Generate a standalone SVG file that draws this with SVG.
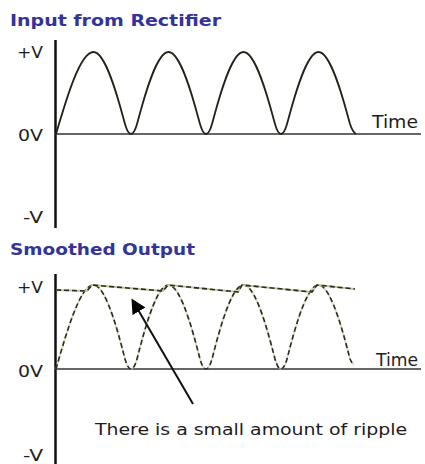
<svg xmlns="http://www.w3.org/2000/svg" width="425" height="464" viewBox="0 0 425 464">
<style>
.title{font-family:"DejaVu Sans","Liberation Sans",sans-serif;font-weight:bold;font-size:16px;fill:#333399}
.lbl{font-family:"DejaVu Sans","Liberation Sans",sans-serif;font-size:15px;fill:#1e1e1e}
.time{font-family:"DejaVu Sans","Liberation Sans",sans-serif;font-size:17px;fill:#1e1e1e}
.note{font-family:"DejaVu Sans","Liberation Sans",sans-serif;font-size:16px;fill:#221a22}
.vaxis{stroke:#111;stroke-width:2.5;fill:none}
.haxis{stroke:#333;stroke-width:1.5;fill:none}
.wave{stroke:#1f2418;stroke-width:1.8;fill:none;stroke-linejoin:round}
.under{stroke:#c4c49c;stroke-width:1.8;fill:none;stroke-linejoin:round}
.dash{stroke:#2a2a22;stroke-width:1.6;fill:none;stroke-dasharray:5 3;stroke-linejoin:round}
.arrow{stroke:#111;stroke-width:2;fill:none}
</style>
<defs>
<marker id="head" markerUnits="userSpaceOnUse" markerWidth="16" markerHeight="16" refX="1" refY="7.5" orient="auto">
<path d="M0,0 L15,7.5 L0,15 z" fill="#000"/>
</marker>
</defs>
<g id="input-chart">
<text class="title" x="10" y="26" textLength="211" lengthAdjust="spacingAndGlyphs">Input from Rectifier</text>
<line class="vaxis" x1="55.5" y1="40" x2="55.5" y2="228"/>
<line class="haxis" x1="55" y1="134" x2="421" y2="134"/>
<path class="wave" d="M56,134 C66,100 79.93,52 93.5,52 C107.07,52 121,110 125,124 C127,131 129,134 131,134 C133,134 135,131 137,124 C141,110 154.93,52 168.5,52 C182.07,52 196,110 200,124 C202,131 204,134 206,134 C208,134 210,131 212,124 C216,110 229.93,52 243.5,52 C257.07,52 271,110 275,124 C277,131 279,134 281,134 C283,134 285,131 287,124 C291,110 304.93,52 318.5,52 C332.07,52 346,110 350,124 C352,130 354,133 356,134"/>
<text class="lbl" x="43" y="58" text-anchor="end" textLength="26" lengthAdjust="spacingAndGlyphs">+V</text>
<text class="lbl" x="43" y="141" text-anchor="end" textLength="25" lengthAdjust="spacingAndGlyphs">0V</text>
<text class="lbl" x="43" y="223" text-anchor="end" textLength="20" lengthAdjust="spacingAndGlyphs">-V</text>
<text class="time" x="372" y="128" textLength="46" lengthAdjust="spacingAndGlyphs">Time</text>
</g>
<g id="smoothed-chart">
<text class="title" x="10" y="255" textLength="185" lengthAdjust="spacingAndGlyphs">Smoothed Output</text>
<line class="vaxis" x1="55.5" y1="274" x2="55.5" y2="464"/>
<line class="haxis" x1="55" y1="369" x2="421" y2="369"/>
<path class="under" opacity="0.6" d="M56,369 C66,334 79.93,285 93.5,285 C107.07,285 121,344 125,359 C127,366 129,369 131,369 C133,369 135,366 137,359 C141,344 154.93,285 168.5,285 C182.07,285 196,344 200,359 C202,366 204,369 206,369 C208,369 210,366 212,359 C216,344 229.93,285 243.5,285 C257.07,285 271,344 275,359 C277,366 279,369 281,369 C283,369 285,366 287,359 C291,344 304.93,285 318.5,285 C332.07,285 346,344 350,359 C351.5,362 352.5,364 354,365"/>
<path class="dash" d="M56,369 C66,334 79.93,285 93.5,285 C107.07,285 121,344 125,359 C127,366 129,369 131,369 C133,369 135,366 137,359 C141,344 154.93,285 168.5,285 C182.07,285 196,344 200,359 C202,366 204,369 206,369 C208,369 210,366 212,359 C216,344 229.93,285 243.5,285 C257.07,285 271,344 275,359 C277,366 279,369 281,369 C283,369 285,366 287,359 C291,344 304.93,285 318.5,285 C332.07,285 346,344 350,359 C351.5,362 352.5,364 354,365"/>
<path class="under" d="M56,290 L87,291 L92,285 L163,291 L168,285 L238,292 L242,285 L312,292 L317,285 L355,289"/>
<path class="dash" d="M56,290 L87,291 L92,285 L163,291 L168,285 L238,292 L242,285 L312,292 L317,285 L355,289"/>
<text class="lbl" x="43" y="293" text-anchor="end" textLength="26" lengthAdjust="spacingAndGlyphs">+V</text>
<text class="lbl" x="43" y="377" text-anchor="end" textLength="25" lengthAdjust="spacingAndGlyphs">0V</text>
<text class="lbl" x="43" y="461" text-anchor="end" textLength="20" lengthAdjust="spacingAndGlyphs">-V</text>
<text class="time" x="376" y="366" textLength="42" lengthAdjust="spacingAndGlyphs">Time</text>
<text class="note" x="95" y="435" textLength="312" lengthAdjust="spacingAndGlyphs">There is a small amount of ripple</text>
</g>
<g id="connectors">
<line class="arrow" x1="193" y1="404" x2="138.5" y2="310.5" marker-end="url(#head)"/>
</g>
</svg>
